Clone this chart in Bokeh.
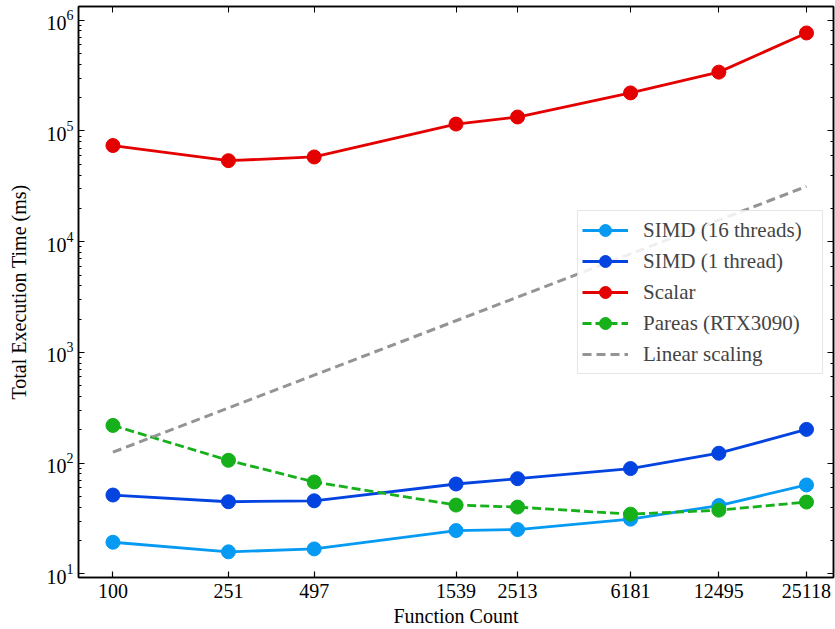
from bokeh.plotting import figure
from bokeh.models import (Range1d, FixedTicker, LogAxis, Legend, LegendItem,
                          PrintfTickFormatter, LogTicker, CustomJSTickFormatter)
from bokeh.embed import file_html
from bokeh.resources import INLINE

# ---- data ----
function_count = [100, 251, 497, 1539, 2513, 6181, 12495, 25118]
simd_16 = [19.3, 15.8, 16.8, 24.6, 25.1, 31.2, 41.4, 63.5]
simd_1 = [51.5, 44.8, 45.7, 64.8, 72.4, 89.3, 122.9, 201.7]
scalar = [73800, 53900, 58200, 115400, 133600, 220600, 339700, 767000]
pareas = [219, 106, 67.6, 41.8, 40.1, 34.6, 37.6, 44.5]
linear_scaling = [125.5, 315, 624, 1931, 3154, 7757, 15681, 31523]

FONT = "Liberation Serif"
C_SIMD16 = "#069AF3"
C_SIMD1 = "#0343DF"
C_SCALAR = "#E50000"
C_PAREAS = "#15B01A"
C_LINEAR = "#929591"

p = figure(width=835, height=629, x_axis_type="log", y_axis_type="log",
           x_range=Range1d(76.0, 31150), y_range=Range1d(9.27, 1.33e6),
           output_backend="svg", toolbar_location=None,
           min_border_left=78, min_border_right=2, min_border_top=6, min_border_bottom=10)

p.background_fill_color = "white"
p.border_fill_color = "white"
p.outline_line_color = "black"
p.outline_line_width = 1.5
p.xgrid.visible = False
p.ygrid.visible = False

def series(ys, color, dash, label):
    l = p.line(function_count, ys, line_color=color, line_width=2.8, line_dash=dash)
    s = p.scatter(function_count, ys, size=14, fill_color=color, line_color=color)
    return LegendItem(label=label, renderers=[l, s])

items = [
    series(simd_16, C_SIMD16, "solid", "SIMD (16 threads)"),
    series(simd_1, C_SIMD1, "solid", "SIMD (1 thread)"),
    series(scalar, C_SCALAR, "solid", "Scalar"),
    series(pareas, C_PAREAS, "9 4", "Pareas (RTX3090)"),
]
lin = p.line(function_count, linear_scaling, line_color=C_LINEAR, line_width=3, line_dash="9 5")
items.append(LegendItem(label="Linear scaling", renderers=[lin]))

# axes styling
p.xaxis.ticker = FixedTicker(ticks=function_count, minor_ticks=[])
p.xaxis.formatter = PrintfTickFormatter(format="%d")

for ax in p.xaxis + p.yaxis:
    ax.major_tick_in = 6
    ax.major_tick_out = 0
    ax.minor_tick_in = 3
    ax.minor_tick_out = 0
    ax.axis_line_width = 1.5
    ax.major_tick_line_width = 1.2
    ax.major_label_text_font = FONT
    ax.major_label_text_font_size = "20px"
    ax.major_label_text_color = "black"
    ax.axis_label_text_font = FONT
    ax.axis_label_text_font_size = "20px"
    ax.axis_label_text_font_style = "normal"
    ax.axis_label_text_color = "black"

p.xaxis.axis_label = "Function Count"
p.yaxis.axis_label = "Total Execution Time (ms)"
p.xaxis.major_label_standoff = 6
p.xaxis.axis_label_standoff = 4
p.yaxis.major_label_standoff = 5
p.yaxis.axis_label_standoff = 14

blank = CustomJSTickFormatter(code="return ''")
top = LogAxis(ticker=FixedTicker(ticks=function_count, minor_ticks=[]), formatter=blank,
              major_tick_in=6, major_tick_out=0,
              minor_tick_in=0, minor_tick_out=0, axis_line_width=1.5,
              major_label_standoff=0)
right = LogAxis(ticker=LogTicker(), formatter=CustomJSTickFormatter(code="return ''"),
                major_tick_in=6, major_tick_out=0, minor_tick_in=3, minor_tick_out=0,
                axis_line_width=1.5, major_label_standoff=0)
p.add_layout(top, "above")
p.add_layout(right, "right")

legend = Legend(items=items, location=(499, 203),
                label_text_font=FONT, label_text_font_size="21px",
                glyph_width=46, glyph_height=30, label_height=30, label_width=175,
                label_standoff=15, spacing=1, padding=4,
                border_line_color="#cccccc", border_line_width=1.5,
                background_fill_color="white", background_fill_alpha=0.85)
p.add_layout(legend, "center")

open("out.html", "w").write(file_html(p, INLINE))
